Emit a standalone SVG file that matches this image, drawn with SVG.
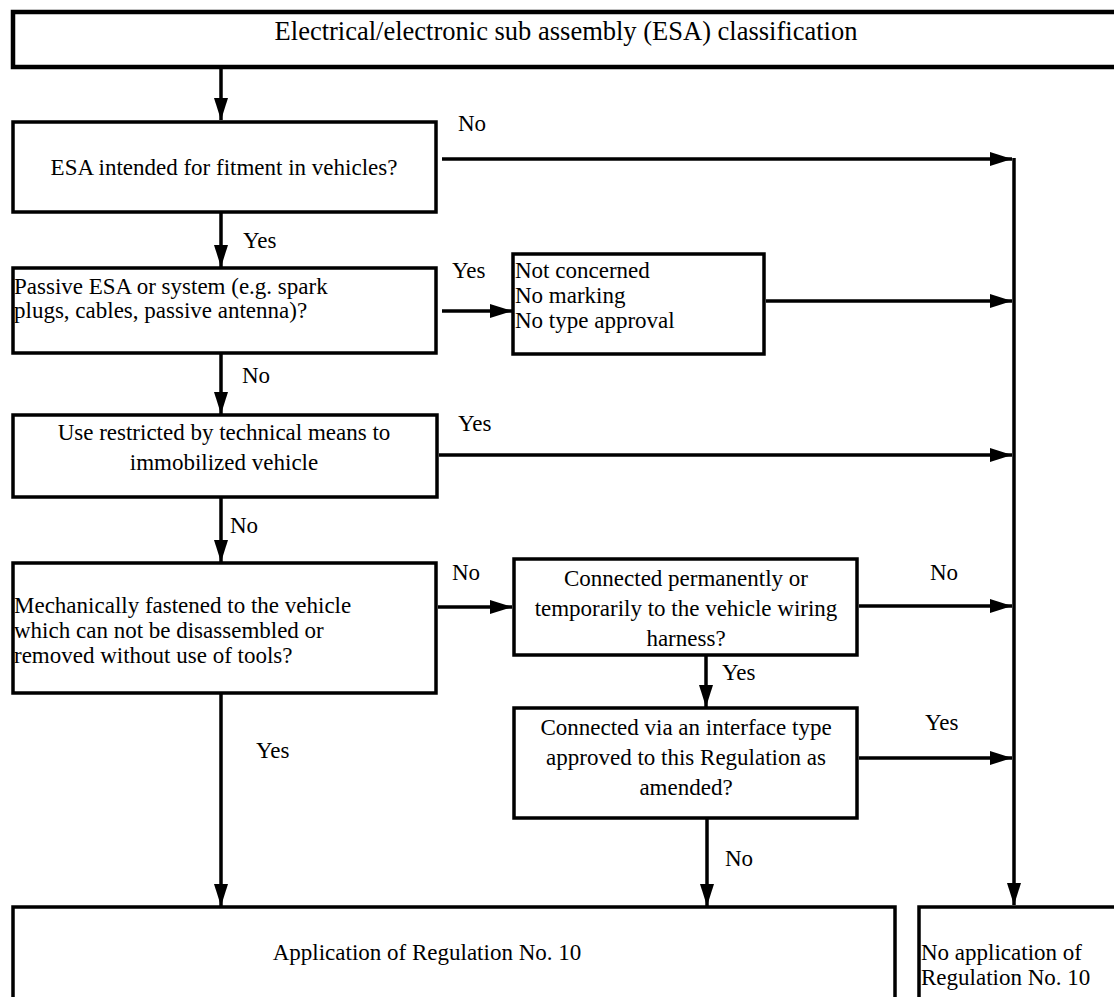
<svg xmlns="http://www.w3.org/2000/svg" width="1114" height="997" viewBox="0 0 1114 997">
<style>
.box{fill:#fff;stroke:#000;stroke-width:3.5}
.t{font-family:"Liberation Serif","Times New Roman",serif;font-size:23px;fill:#000}
.c{text-anchor:middle}
.lbl{font-family:"Liberation Serif","Times New Roman",serif;font-size:23px;fill:#000}
.ln{fill:none;stroke:#000;stroke-width:3.5}
</style>
<defs>
<marker id="ah" markerUnits="userSpaceOnUse" markerWidth="24" markerHeight="16" refX="22" refY="7" orient="auto">
<path d="M0,0 L22,7 L0,14 z" fill="#000"/>
</marker>
</defs>
<rect width="1114" height="997" fill="#fff"/>
<g id="connectors">
<line class="ln" x1="221" y1="67" x2="221" y2="120" marker-end="url(#ah)"/>
<line class="ln" x1="442" y1="159" x2="1012" y2="159" marker-end="url(#ah)"/>
<line class="ln" x1="1014" y1="158" x2="1014" y2="905" marker-end="url(#ah)"/>
<line class="ln" x1="221" y1="212" x2="221" y2="267" marker-end="url(#ah)"/>
<line class="ln" x1="442" y1="311" x2="512" y2="311" marker-end="url(#ah)"/>
<line class="ln" x1="766" y1="301" x2="1012" y2="301" marker-end="url(#ah)"/>
<line class="ln" x1="221" y1="353" x2="221" y2="414" marker-end="url(#ah)"/>
<line class="ln" x1="439" y1="455" x2="1012" y2="455" marker-end="url(#ah)"/>
<line class="ln" x1="221" y1="497" x2="221" y2="562" marker-end="url(#ah)"/>
<line class="ln" x1="438" y1="607" x2="512" y2="607" marker-end="url(#ah)"/>
<line class="ln" x1="859" y1="606" x2="1012" y2="606" marker-end="url(#ah)"/>
<line class="ln" x1="706" y1="655" x2="706" y2="707" marker-end="url(#ah)"/>
<line class="ln" x1="859" y1="758" x2="1012" y2="758" marker-end="url(#ah)"/>
<line class="ln" x1="707" y1="818" x2="707" y2="906" marker-end="url(#ah)"/>
<line class="ln" x1="221" y1="693" x2="221" y2="906" marker-end="url(#ah)"/>
<text class="lbl" x="458" y="131">No</text>
<text class="lbl" x="243" y="248">Yes</text>
<text class="lbl" x="452" y="278">Yes</text>
<text class="lbl" x="242" y="383">No</text>
<text class="lbl" x="458" y="431">Yes</text>
<text class="lbl" x="230" y="533">No</text>
<text class="lbl" x="452" y="580">No</text>
<text class="lbl" x="930" y="580">No</text>
<text class="lbl" x="722" y="680">Yes</text>
<text class="lbl" x="925" y="730">Yes</text>
<text class="lbl" x="256" y="758">Yes</text>
<text class="lbl" x="725" y="866">No</text>
</g>
<g id="n-title">
<rect class="box" x="13" y="12" width="1110" height="55" style="stroke-width:4.5"/>
<text class="t c" x="566" y="40" style="font-size:26.5px">Electrical/electronic sub assembly (ESA) classification</text>
</g>
<g id="n-fitment">
<rect class="box" x="13" y="122" width="423" height="90"/>
<text class="t c" x="224" y="175">ESA intended for fitment in vehicles?</text>
</g>
<g id="n-passive">
<rect class="box" x="13" y="268" width="423" height="85"/>
<text class="t" x="14" y="294">Passive ESA or system (e.g. spark</text>
<text class="t" x="14" y="318">plugs, cables, passive antenna)?</text>
</g>
<g id="n-notconcerned">
<rect class="box" x="513" y="254" width="251" height="100"/>
<text class="t" x="515" y="278">Not concerned</text>
<text class="t" x="515" y="303">No marking</text>
<text class="t" x="515" y="328">No type approval</text>
</g>
<g id="n-restricted">
<rect class="box" x="13" y="415" width="424" height="82"/>
<text class="t c" x="224" y="440">Use restricted by technical means to</text>
<text class="t c" x="224" y="470">immobilized vehicle</text>
</g>
<g id="n-mechanical">
<rect class="box" x="13" y="563" width="423" height="130"/>
<text class="t" x="14" y="613">Mechanically fastened to the vehicle</text>
<text class="t" x="14" y="638">which can not be disassembled or</text>
<text class="t" x="14" y="663">removed without use of tools?</text>
</g>
<g id="n-connected">
<rect class="box" x="514" y="559" width="343" height="96"/>
<text class="t c" x="686" y="586">Connected permanently or</text>
<text class="t c" x="686" y="616">temporarily to the vehicle wiring</text>
<text class="t c" x="686" y="646">harness?</text>
</g>
<g id="n-interface">
<rect class="box" x="514" y="708" width="343" height="110"/>
<text class="t c" x="686" y="735">Connected via an interface type</text>
<text class="t c" x="686" y="765">approved to this Regulation as</text>
<text class="t c" x="686" y="795">amended?</text>
</g>
<g id="n-application">
<rect class="box" x="13" y="907" width="882" height="100"/>
<text class="t c" x="427" y="960">Application of Regulation No. 10</text>
</g>
<g id="n-noapplication">
<rect class="box" x="919" y="907" width="210" height="100"/>
<text class="t" x="921" y="960">No application of</text>
<text class="t" x="921" y="985">Regulation No. 10</text>
</g>
</svg>
